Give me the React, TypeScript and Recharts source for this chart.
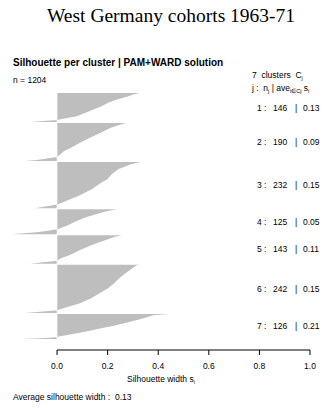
import { AreaChart, Area, XAxis, YAxis, ReferenceLine } from "recharts";

// cluster sizes and average widths, as printed on the right
const clusterSizes = [146, 190, 232, 125, 143, 242, 126];
const clusterAves = ["0.13", "0.09", "0.15", "0.05", "0.11", "0.15", "0.21"];
const xTicks = [0, 0.2, 0.4, 0.6, 0.8, 1.0];

// silhouette profile of each cluster, sampled at ranks within the cluster
const c1Rank = [0, 8, 17, 33, 50, 66, 83, 100, 116, 129, 136, 141, 146];
const c1Sil = [0.328, 0.3, 0.28, 0.236, 0.2, 0.176, 0.144, 0.11, 0.078, 0.024, 0, -0.055, -0.103];

const c2Rank = [0, 8, 25, 50, 74, 99, 124, 140, 157, 170, 178, 185, 190];
const c2Sil = [0.273, 0.249, 0.21, 0.17, 0.13, 0.091, 0.055, 0.028, 0.012, 0, -0.04, -0.08, -0.126];

const c3Rank = [0, 12, 37, 62, 87, 103, 137, 170, 195, 212, 220, 228, 232];
const c3Sil = [0.328, 0.289, 0.242, 0.216, 0.199, 0.176, 0.137, 0.084, 0.038, 0.005, -0.028, -0.07, -0.087];

const c4Rank = [0, 10, 26, 42, 59, 83, 99, 107, 115, 122, 125];
const c4Sil = [0.236, 0.196, 0.15, 0.111, 0.078, 0.038, 0.005, -0.028, -0.08, -0.146, -0.174];

const c5Rank = [0, 8, 25, 49, 74, 99, 115, 128, 136, 143];
const c5Sil = [0.256, 0.229, 0.19, 0.137, 0.091, 0.051, 0.018, 0, -0.055, -0.107];

const c6Rank = [0, 3, 20, 44, 69, 94, 119, 143, 168, 193, 209, 221, 229, 235, 242];
const c6Sil = [0.328, 0.315, 0.295, 0.269, 0.245, 0.225, 0.2, 0.168, 0.135, 0.091, 0.051, 0.018, 0, -0.055, -0.126];

const c7Rank = [0, 7, 27, 45, 60, 72, 85, 101, 112, 116, 121, 126];
const c7Sil = [0.44, 0.38, 0.328, 0.27, 0.22, 0.175, 0.13, 0.063, 0.012, 0, -0.04, -0.14];

const ranks = [c1Rank, c2Rank, c3Rank, c4Rank, c5Rank, c6Rank, c7Rank];
const sils = [c1Sil, c2Sil, c3Sil, c4Sil, c5Sil, c6Sil, c7Sil];

const GAP = 5; // blank observations between clusters
const YMAX = 1289;

const rows: any[] = [];
const centers: number[] = [];
let offset = 0;
clusterSizes.forEach((n, k) => {
  ranks[k].forEach((r, i) => {
    rows.push({ pos: offset + r, ["c" + (k + 1)]: sils[k][i] });
  });
  centers.push(offset + n / 2);
  offset += n + GAP;
});

const SANS = "'Liberation Sans', Arial, sans-serif";

function ClusterTick(props: any) {
  const { y, payload } = props;
  const k = centers.indexOf(payload.value);
  if (k < 0) return null;
  return (
    <text y={y} dy="0.35em" fontSize={8.5} fontFamily={SANS} fill="#000">
      <tspan x={257}>{`${k + 1} :`}</tspan>
      <tspan x={273}>{clusterSizes[k]}</tspan>
      <tspan x={295}>|</tspan>
      <tspan x={303}>{clusterAves[k]}</tspan>
    </text>
  );
}

const small: React.CSSProperties = {
  position: "absolute",
  fontFamily: SANS,
  fontSize: 8.5,
  lineHeight: 1,
  whiteSpace: "pre",
  color: "#000",
};

const subStyle: React.CSSProperties = { fontSize: 5.5, verticalAlign: -2 };

export default function App() {
  return (
    <div style={{ position: "relative", width: 326, height: 408, background: "#fff" }}>
      <style>{`body{margin:0}`}</style>
      <AreaChart
        width={326}
        height={408}
        data={rows}
        layout="vertical"
        margin={{ top: 93, right: 0, bottom: 28, left: 11.5 }}
      >
        <XAxis
          type="number"
          domain={[-0.18, 1]}
          ticks={xTicks}
          allowDataOverflow
          tickFormatter={(v: number) => v.toFixed(1)}
          axisLine={false}
          tickLine={{ stroke: "#000" }}
          tickSize={5}
          tickMargin={8}
          tick={{ fill: "#000", fontSize: 8.5, fontFamily: SANS }}
          height={30}
        />
        <YAxis
          type="number"
          dataKey="pos"
          orientation="right"
          domain={[0, YMAX]}
          allowDataOverflow
          ticks={centers}
          interval={0}
          tick={<ClusterTick />}
          axisLine={false}
          tickLine={false}
          width={16}
        />
        {clusterSizes.map((_, k) => (
          <Area
            key={k}
            dataKey={"c" + (k + 1)}
            type="linear"
            fill="#bebebe"
            fillOpacity={1}
            stroke="none"
            dot={false}
            activeDot={false}
            connectNulls={false}
            isAnimationActive={false}
          />
        ))}
        <ReferenceLine x={0} stroke="#fff" strokeOpacity={0.6} strokeWidth={1} />
        <ReferenceLine
          segment={[
            { x: 0, y: YMAX },
            { x: 1, y: YMAX },
          ]}
          stroke="#000"
          strokeWidth={1}
          ifOverflow="visible"
        />
      </AreaChart>

      <div
        style={{
          position: "absolute",
          left: 47,
          top: 5.7,
          fontFamily: "'Liberation Serif', 'Times New Roman', serif",
          fontSize: 19.5,
          lineHeight: 1,
          whiteSpace: "pre",
        }}
      >
        West Germany cohorts 1963-71
      </div>
      <div style={{ ...small, left: 13, top: 58.2, fontSize: 10, fontWeight: "bold" }}>
        Silhouette per cluster | PAM+WARD solution
      </div>
      <div style={{ ...small, left: 13, top: 75.8 }}>n = 1204</div>
      <div style={{ ...small, left: 252, top: 70.8 }}>
        {"7  clusters  C"}
        <span style={subStyle}>j</span>
      </div>
      <div style={{ ...small, left: 252, top: 84.3 }}>
        {"j :  n"}
        <span style={subStyle}>j</span>
        {" | ave"}
        <span style={subStyle}>i∈Cj</span>
        {" s"}
        <span style={subStyle}>i</span>
      </div>
      <div style={{ ...small, left: 0, width: 322, textAlign: "center", top: 375.3 }}>
        {"Silhouette width s"}
        <span style={subStyle}>i</span>
      </div>
      <div style={{ ...small, left: 13, top: 392.8 }}>Average silhouette width :  0.13</div>
    </div>
  );
}
